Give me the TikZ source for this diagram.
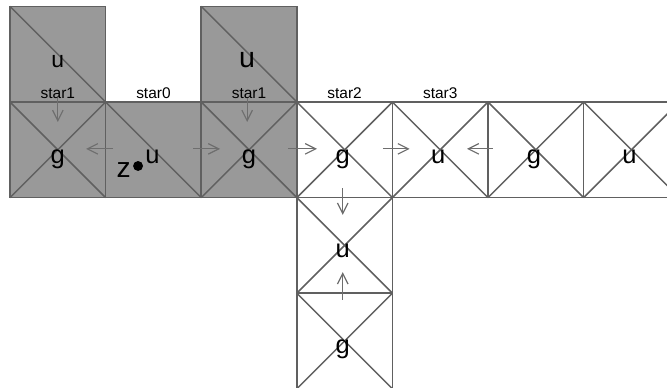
\documentclass[tikz,border=0pt]{standalone}
\usepackage{fontspec}
\setmainfont{Liberation Sans}
\usetikzlibrary{arrows.meta}
\definecolor{cellgray}{HTML}{999999}
\definecolor{edgegray}{HTML}{606060}
\definecolor{arrowgray}{HTML}{6E6E6E}

\begin{document}
\begin{tikzpicture}[
  x=1cm, y=1cm,
  edge/.style={draw=edgegray, line width=0.45pt},
  flow/.style={draw=arrowgray, line width=0.35pt,
    -{Straight Barb[length=1.1mm,width=1.1mm]}},
  letter/.style={anchor=base, inner sep=0pt, font=\fontsize{7.6}{8}\selectfont},
  bigletter/.style={letter, font=\fontsize{8.4}{9}\selectfont},
  starlabel/.style={anchor=base, inner sep=0pt, font=\fontsize{4.6}{5}\selectfont},
  dotmark/.style={circle, fill=black, inner sep=0pt, minimum size=0.104cm},
]
\useasboundingbox (-0.105,-2.981) rectangle (6.872,1.067);
\clip (-0.105,-2.981) rectangle (6.872,1.067);

% shaded cells
\fill[cellgray] (0,0) rectangle (1,1);
\fill[cellgray] (2,0) rectangle (3,1);
\fill[cellgray] (0,-1) rectangle (3,0);

% cell outlines
\draw[edge] (0,0) rectangle (1,1);
\draw[edge] (2,0) rectangle (3,1);
\foreach \i in {0,...,6} \draw[edge] (\i,-1) rectangle (\i+1,0);
\draw[edge] (3,-2) rectangle (4,-1);
\draw[edge] (3,-3) rectangle (4,-2);

% diagonals
\draw[edge] (0,1) -- (1,0);
\draw[edge] (2,1) -- (3,0);
\draw[edge] (1,0) -- (2,-1);
\foreach \i in {0,2,3,4,5,6} {
  \draw[edge] (\i,0) -- (\i+1,-1);
  \draw[edge] (\i,-1) -- (\i+1,0);
}
\foreach \j in {-1,-2} {
  \draw[edge] (3,\j) -- (4,\j-1);
  \draw[edge] (3,\j-1) -- (4,\j);
}

% column labels
\node[starlabel] (lab1a) at (0.5,0.042) {star1};
\node[starlabel] (lab0)  at (1.5,0.042) {star0};
\node[starlabel] (lab1b) at (2.5,0.042) {star1};
\node[starlabel] (lab2)  at (3.5,0.042) {star2};
\node[starlabel] (lab3)  at (4.5,0.042) {star3};

% cell letters
\node[letter, font=\fontsize{6.8}{8}\selectfont] (upA) at (0.5,0.366) {u};
\node[letter, font=\fontsize{8.5}{9}\selectfont] (upB) at (2.48,0.366) {u};
\node[letter] (c0) at (0.5,-0.638) {g};
\node[letter] (c1) at (1.49,-0.638) {u};
\node[bigletter] (zl) at (1.19,-0.785) {z};
\node[dotmark] (zdot) at (1.339,-0.669) {};
\node[letter] (c2) at (2.5,-0.638) {g};
\node[letter] (c3) at (3.48,-0.638) {g};
\node[letter] (c4) at (4.48,-0.638) {u};
\node[letter] (c5) at (5.48,-0.638) {g};
\node[letter] (c6) at (6.48,-0.638) {u};
\node[letter] (d1) at (3.48,-1.63) {u};
\node[letter] (d2) at (3.48,-2.63) {g};

% arrow end points
\coordinate (p0a) at (0.5,0.042);   \coordinate (p0b) at (0.5,-0.209);
\coordinate (p2a) at (2.48,0.042);  \coordinate (p2b) at (2.48,-0.209);
\coordinate (h1a) at (1.077,-0.49); \coordinate (h1b) at (0.795,-0.49);
\coordinate (h2a) at (1.914,-0.49); \coordinate (h2b) at (2.197,-0.49);
\coordinate (h3a) at (2.908,-0.49); \coordinate (h3b) at (3.211,-0.49);
\coordinate (h4a) at (3.90,-0.49);  \coordinate (h4b) at (4.18,-0.49);
\coordinate (h5a) at (5.05,-0.49);  \coordinate (h5b) at (4.78,-0.49);
\coordinate (v1a) at (3.48,-0.90);  \coordinate (v1b) at (3.48,-1.18);
\coordinate (v2a) at (3.48,-2.07);  \coordinate (v2b) at (3.48,-1.78);

% arrows
\draw[flow] (p0a) -- (p0b);
\draw[flow] (p2a) -- (p2b);
\draw[flow] (h1a) -- (h1b);
\draw[flow] (h2a) -- (h2b);
\draw[flow] (h3a) -- (h3b);
\draw[flow] (h4a) -- (h4b);
\draw[flow] (h5a) -- (h5b);
\draw[flow] (v1a) -- (v1b);
\draw[flow] (v2a) -- (v2b);
\end{tikzpicture}
\end{document}
